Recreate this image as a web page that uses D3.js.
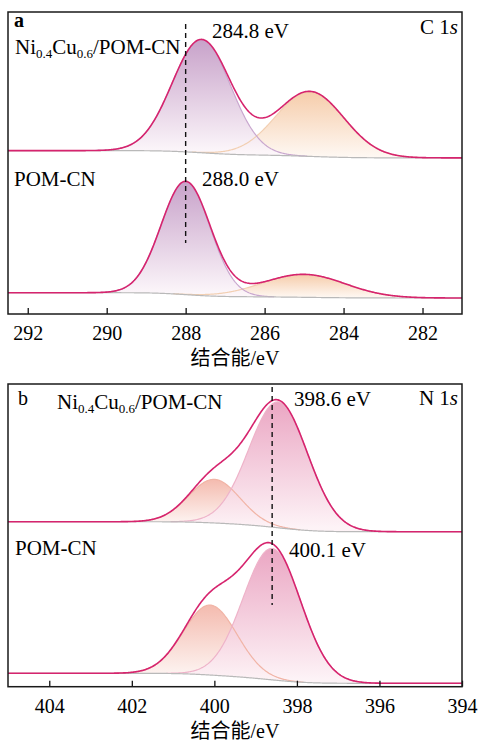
<!DOCTYPE html>
<html>
<head>
<meta charset="utf-8">
<script src="https://cdn.jsdelivr.net/npm/d3@7"></script>
<style>
  body { margin: 0; background: #fff; }
  svg { display: block; }
</style>
</head>
<body>
<svg id="chart" width="480" height="744"></svg>
<script>
// ---- Axis ranges and ticks (binding energy, eV) ----
const c1sDomain = [292.5, 281];
const n1sDomain = [405, 394];
const c1sTicks = [292, 290, 288, 286, 284, 282];
const n1sTicks = [404, 402, 400, 398, 396, 394];

// ---- Peak-fit components: centre (eV), height (a.u.), FWHM (eV) ----
// Background: [high-BE end, low-BE end] in a.u.
const c1sNiCuCenters = [287.6, 284.85];
const c1sNiCuHeights = [37.4, 21.5];
const c1sNiCuFwhm = [1.74, 2.03];
const c1sNiCuBackground = [54.1, 51.7];

const c1sPomCenters = [288.0, 285.0];
const c1sPomHeights = [37.4, 7.6];
const c1sPomFwhm = [1.46, 2.47];
const c1sPomBackground = [7.05, 5.3];

const n1sNiCuCenters = [398.45, 400.0];
const n1sNiCuHeights = [41.6, 14.4];
const n1sNiCuFwhm = [1.68, 1.46];
const n1sNiCuBackground = [54.5, 51.2];

const n1sPomCenters = [398.6, 400.1];
const n1sPomHeights = [43.4, 23.1];
const n1sPomFwhm = [1.65, 1.53];
const n1sPomBackground = [4.43, 1.12];

// Marker lines and annotated peak positions
const c1sMarker = 288.0;
const n1sMarker = 398.6;
const c1sPeakLabels = ["284.8 eV", "288.0 eV"];
const n1sPeakLabels = ["398.6 eV", "400.1 eV"];
const sampleNames = ["Ni0.4Cu0.6/POM-CN", "POM-CN"];

// ---- Styles ----
const serifFont = "Liberation Serif";
const cjkFont = "Noto Sans CJK SC";
const envelopeColor = "#d6246e";
const bgLineColor = "#b9b9b9";
const c1sPalette = [
  { top: "#c39ac5", bottom: "#fcf6fa", line: "#c9a7cf" },
  { top: "#f5c8a3", bottom: "#fef7f1", line: "#f2cfb2" }
];
const n1sPalette = [
  { top: "#e99fbe", bottom: "#fdf2f6", line: "#eeb3c9" },
  { top: "#f3b5a8", bottom: "#fdf3f0", line: "#f1b4a6" }
];

const svg = d3.select("#chart");
const defs = svg.append("defs");
let gradId = 0;

function gaussian(x, c, h, fwhm) {
  const s = fwhm / 2.35482;
  return h * Math.exp(-0.5 * ((x - c) / s) ** 2);
}

// Builds component curves, Shirley-type background and envelope on a fine grid
function buildSpectrum(domain, centers, heights, fwhm, background) {
  const lo = Math.min(domain[0], domain[1]);
  const hi = Math.max(domain[0], domain[1]);
  const step = 0.02;
  const xs = d3.range(lo, hi + step / 2, step);
  const comps = centers.map((c, i) => xs.map(x => gaussian(x, c, heights[i], fwhm[i])));
  const total = xs.map((x, k) => d3.sum(comps, comp => comp[k]));
  // cumulative area from the low-BE end
  const cum = [];
  let acc = 0;
  total.forEach(v => { acc += v; cum.push(acc); });
  const bg = xs.map((x, k) => background[1] + (background[0] - background[1]) * cum[k] / acc);
  return {
    xs, bg,
    comps: comps.map((comp, i) => ({ peak: heights[i], center: centers[i], vals: comp })),
    envelope: xs.map((x, k) => bg[k] + total[k])
  };
}

function drawPanel(cfg) {
  const { x0, x1, y0, y1 } = cfg.frame;
  const x = d3.scaleLinear().domain(cfg.domain).range([x0, x1]);
  const y = d3.scaleLinear().domain([0, 100]).range([y1, y0]);
  const g = svg.append("g");
  const clipId = "clip-" + cfg.id;
  defs.append("clipPath").attr("id", clipId)
    .append("rect").attr("x", x0).attr("y", y0).attr("width", x1 - x0).attr("height", y1 - y0);
  const plot = g.append("g").attr("clip-path", `url(#${clipId})`);

  cfg.spectra.forEach(spec => {
    const s = buildSpectrum(cfg.domain, spec.centers, spec.heights, spec.fwhm, spec.background);
    const idx = d3.range(s.xs.length);
    // fills: second component first, main component on top
    const order = [1, 0];
    order.forEach(i => {
      const comp = s.comps[i];
      const pal = cfg.palette[i];
      const k = d3.minIndex(s.xs, v => Math.abs(v - comp.center));
      const id = "grad" + (gradId++);
      const lg = defs.append("linearGradient").attr("id", id)
        .attr("gradientUnits", "userSpaceOnUse")
        .attr("x1", 0).attr("x2", 0)
        .attr("y1", y(s.bg[k] + comp.peak)).attr("y2", y(s.bg[k]));
      lg.append("stop").attr("offset", 0).attr("stop-color", pal.top);
      lg.append("stop").attr("offset", 1).attr("stop-color", pal.bottom);
      const area = d3.area()
        .x(j => x(s.xs[j]))
        .y0(j => y(s.bg[j]))
        .y1(j => y(s.bg[j] + comp.vals[j]));
      plot.append("path").datum(idx.filter(j => comp.vals[j] > 0.01))
        .attr("d", area).attr("fill", `url(#${id})`).attr("fill-opacity", 0.92);
    });
    order.forEach(i => {
      const comp = s.comps[i];
      const line = d3.line().x(j => x(s.xs[j])).y(j => y(s.bg[j] + comp.vals[j]));
      plot.append("path").datum(idx.filter(j => comp.vals[j] > 0.05))
        .attr("d", line).attr("fill", "none")
        .attr("stroke", cfg.palette[i].line).attr("stroke-width", 1.2);
    });
    // background
    plot.append("path").datum(idx)
      .attr("d", d3.line().x(j => x(s.xs[j])).y(j => y(s.bg[j])))
      .attr("fill", "none").attr("stroke", bgLineColor).attr("stroke-width", 1.2);
    // envelope
    plot.append("path").datum(idx)
      .attr("d", d3.line().x(j => x(s.xs[j])).y(j => y(s.envelope[j])))
      .attr("fill", "none").attr("stroke", envelopeColor).attr("stroke-width", 1.6);
  });

  // dashed marker
  g.append("line")
    .attr("x1", x(cfg.marker)).attr("x2", x(cfg.marker))
    .attr("y1", y(cfg.markerSpan[0])).attr("y2", y(cfg.markerSpan[1]))
    .attr("stroke", "#111").attr("stroke-width", 1.4).attr("stroke-dasharray", "5,4");

  // axis with inward ticks
  const axis = d3.axisBottom(x).tickValues(cfg.ticks).tickSize(-6).tickPadding(12).tickFormat(d3.format("d"));
  const ax = g.append("g").attr("transform", `translate(0,${y1})`).call(axis);
  ax.attr("font-family", serifFont).attr("font-size", 20);
  ax.select(".domain").remove();
  ax.selectAll(".tick line").attr("stroke", "#111").attr("stroke-width", 1.3);
  ax.selectAll(".tick text").attr("y", 26).attr("dy", 0)
    .style("font-family", serifFont).style("font-size", "20px").attr("fill", "#000");

  // frame
  g.append("rect").attr("x", x0).attr("y", y0).attr("width", x1 - x0).attr("height", y1 - y0)
    .attr("fill", "none").attr("stroke", "#1a1a1a").attr("stroke-width", 1.5);

  // axis title
  const title = g.append("text").attr("x", (x0 + x1) / 2).attr("y", y1 + 51)
    .attr("text-anchor", "middle").style("font-size", "20px").style("font-family", serifFont);
  title.append("tspan").style("font-family", cjkFont).text("结合能");
  title.append("tspan").style("font-family", serifFont).text("/eV");

  // panel letter and core-level label
  g.append("text").attr("x", cfg.letterPos[0]).attr("y", cfg.letterPos[1]).style("font-family", serifFont)
    .style("font-size", "20px").style("font-weight", cfg.letterBold ? "bold" : "normal").text(cfg.letter);
  const core = g.append("text").attr("x", x1 - 4).attr("y", cfg.corePos).attr("text-anchor", "end")
    .style("font-family", serifFont).style("font-size", "21px");
  core.append("tspan").text(cfg.core + " 1");
  core.append("tspan").style("font-style", "italic").text("s");

  // sample names and peak annotations
  cfg.nameLabels.forEach((p, i) => sampleLabel(g, sampleNames[i], p[0], p[1]));
  cfg.peakLabelPos.forEach((p, i) => {
    g.append("text").attr("x", p[0]).attr("y", p[1]).style("font-family", serifFont)
      .style("font-size", "21px").text(cfg.peakLabels[i]);
  });
}

// renders the sample name with numeric subscripts
function sampleLabel(g, name, px, py) {
  const t = g.append("text").attr("x", px).attr("y", py).style("font-family", serifFont).style("font-size", "21px");
  const parts = name.match(/[A-Za-z\/\-]+|[0-9.]+/g);
  let shifted = false;
  parts.forEach(part => {
    const isSub = /^[0-9.]+$/.test(part);
    const ts = t.append("tspan").text(part);
    if (isSub) { ts.style("font-size", "13px").attr("dy", shifted ? 0 : 4); shifted = true; }
    else if (shifted) { ts.attr("dy", -4); shifted = false; }
  });
}

drawPanel({
  id: "c1s", domain: c1sDomain, ticks: c1sTicks,
  frame: { x0: 8, x1: 462, y0: 12, y1: 314 },
  palette: c1sPalette,
  spectra: [
    { centers: c1sNiCuCenters, heights: c1sNiCuHeights, fwhm: c1sNiCuFwhm, background: c1sNiCuBackground },
    { centers: c1sPomCenters, heights: c1sPomHeights, fwhm: c1sPomFwhm, background: c1sPomBackground }
  ],
  marker: c1sMarker, markerSpan: [96, 23.5],
  letter: "a", letterBold: true, letterPos: [14, 27],
  core: "C", corePos: 33.5,
  nameLabels: [[15, 54], [14, 186]],
  peakLabels: c1sPeakLabels, peakLabelPos: [[212, 37.5], [202, 185.5]]
});

drawPanel({
  id: "n1s", domain: n1sDomain, ticks: n1sTicks,
  frame: { x0: 8, x1: 462, y0: 384, y1: 686.7 },
  palette: n1sPalette,
  spectra: [
    { centers: n1sNiCuCenters, heights: n1sNiCuHeights, fwhm: n1sNiCuFwhm, background: n1sNiCuBackground },
    { centers: n1sPomCenters, heights: n1sPomHeights, fwhm: n1sPomFwhm, background: n1sPomBackground }
  ],
  marker: n1sMarker, markerSpan: [99, 27],
  letter: "b", letterBold: false, letterPos: [18, 405],
  core: "N", corePos: 405,
  nameLabels: [[57, 409], [15, 555]],
  peakLabels: n1sPeakLabels, peakLabelPos: [[294, 405.5], [289, 556.5]]
});
</script>
</body>
</html>
